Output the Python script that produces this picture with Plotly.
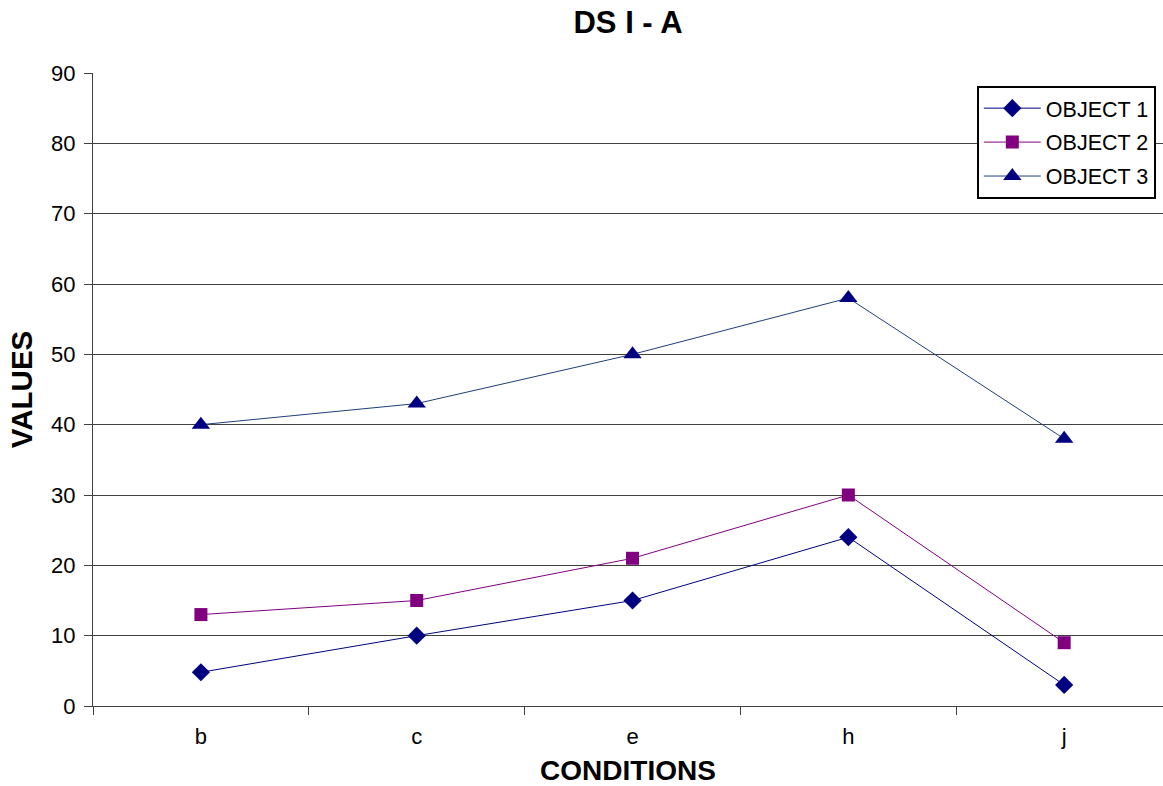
import plotly.graph_objects as go

categories = ["b", "c", "e", "h", "j"]
object1 = [4.8, 10, 15, 24, 3]
object2 = [13, 15, 21, 30, 9]
object3 = [40, 43, 50, 58, 38]
y_ticks = [0, 10, 20, 30, 40, 50, 60, 70, 80, 90]

FONT = "Liberation Sans, Arial, sans-serif"

fig = go.Figure()
fig.add_trace(go.Scatter(x=categories, y=object1, name="OBJECT 1", mode="lines+markers",
                         legendgroup="g1",
                         line=dict(color="#000080", width=1),
                         marker=dict(symbol="diamond", size=14, color="#000080")))
fig.add_trace(go.Scatter(x=categories, y=object2, name="OBJECT 2", mode="lines+markers",
                         legendgroup="g2",
                         line=dict(color="#800080", width=1),
                         marker=dict(symbol="square", size=13, color="#800080")))
fig.add_trace(go.Scatter(x=categories, y=object3, name="OBJECT 3", mode="lines+markers",
                         legendgroup="g3",
                         line=dict(color="#1F3F7A", width=1),
                         marker=dict(symbol="triangle-up", size=16, color="#000080")))

fig.update_layout(
    width=1163, height=786,
    margin=dict(l=93, r=0, t=73, b=80),
    paper_bgcolor="white", plot_bgcolor="white",
    font=dict(family=FONT, color="black", size=22),
    title=dict(text="<b>DS I - A</b>", x=0.5, xref="paper", yref="container", y=0.972,
               yanchor="middle", font=dict(size=31, family=FONT)),
    showlegend=True,
    legend=dict(x=0.826, y=0.98, xanchor="left", yanchor="top",
                bordercolor="black", borderwidth=2, bgcolor="white",
                font=dict(size=21.5, family=FONT), tracegroupgap=3, itemwidth=57),
    xaxis=dict(type="category", range=[-0.5, 4.458], showgrid=False,
               tickson="boundaries", ticks="outside", ticklen=8, tickcolor="#404040",
               showline=True, linecolor="#404040", linewidth=1,
               tickfont=dict(size=22), zeroline=False, ticklabelstandoff=11,
               title=dict(text="<b>CONDITIONS</b>", font=dict(size=28), standoff=12)),
    yaxis=dict(range=[0, 90], tickvals=y_ticks, showgrid=True, gridcolor="#404040", gridwidth=1,
               ticks="outside", ticklen=8, tickcolor="#404040",
               showline=True, linecolor="#404040", linewidth=1, zeroline=False,
               tickfont=dict(size=22), ticklabelstandoff=4,
               title=dict(text="<b>VALUES</b>", font=dict(size=29.5), standoff=9)),
)

fig.write_html("out.html")
